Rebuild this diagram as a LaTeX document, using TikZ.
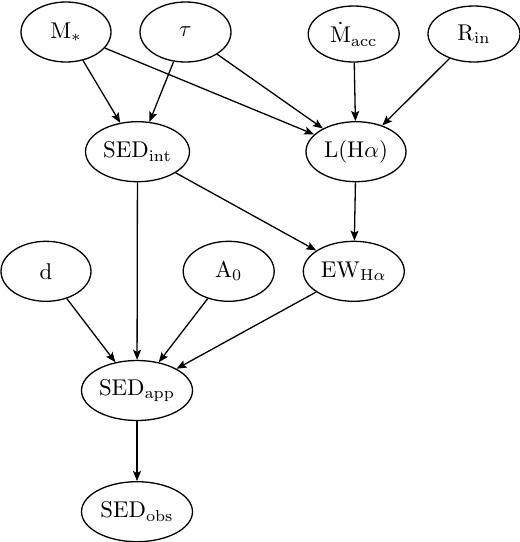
\documentclass[tikz,border=0pt]{standalone}
\usepackage{graphicx}
\usetikzlibrary{shapes.geometric,arrows.meta}
\newcommand{\varlabel}[1]{\scalebox{2.28}{$#1$}}
\begin{document}
\begin{tikzpicture}[x=1pt,y=-1pt,
  var/.style={ellipse,draw,line width=1.3pt,inner sep=0pt,minimum height=60pt},
  edge/.style={line width=1.3pt,-{Stealth[length=10pt,width=8pt,inset=2pt]}}]
\useasboundingbox (0,0) rectangle (520,542);
\node[var,minimum width=90pt]  (M)   at (66,32)    {\varlabel{\mathrm{M}_*}};
\node[var,minimum width=91pt]  (tau) at (185.5,32) {\varlabel{\tau}};
\node[var,minimum width=91pt,minimum height=56pt]  (Macc) at (353.7,34) {\varlabel{\dot{\mathrm{M}}_{\mathrm{acc}}}};
\node[var,minimum width=92pt,minimum height=56pt]  (Rin) at (474,34) {\varlabel{\mathrm{R}_{\mathrm{in}}}};
\node[var,minimum width=104pt] (SEDint) at (137.5,151.7) {\varlabel{\mathrm{SED}_{\mathrm{int}}}};
\node[var,minimum width=100pt] (LHa) at (356,151.7) {\varlabel{\mathrm{L(H}\alpha)}};
\node[var,minimum width=90pt]  (d)   at (46,271.3) {\varlabel{\mathrm{d}}};
\node[var,minimum width=91pt]  (A0)  at (228.7,271.3) {\varlabel{\mathrm{A}_0}};
\node[var,minimum width=101pt] (EW)  at (353.8,271.3) {\varlabel{\mathrm{EW}_{\mathrm{H}\alpha}}};
\node[var,minimum width=111pt] (SEDapp) at (137,390.5) {\varlabel{\mathrm{SED}_{\mathrm{app}}}};
\node[var,minimum width=111pt] (SEDobs) at (137,511.7) {\varlabel{\mathrm{SED}_{\mathrm{obs}}}};
\draw[edge] (M) -- (SEDint);
\draw[edge] (tau) -- (SEDint);
\draw[edge] (M) -- (LHa);
\draw[edge] (tau) -- (LHa);
\draw[edge] (Macc) -- (LHa);
\draw[edge] (Rin) -- (LHa);
\draw[edge] (SEDint) -- (SEDapp);
\draw[edge] (SEDint) -- (EW);
\draw[edge] (LHa) -- (EW);
\draw[edge] (d) -- (SEDapp);
\draw[edge] (A0) -- (SEDapp);
\draw[edge] (EW) -- (SEDapp);
\draw[edge] (SEDapp) -- (SEDobs);
\end{tikzpicture}
\end{document}
